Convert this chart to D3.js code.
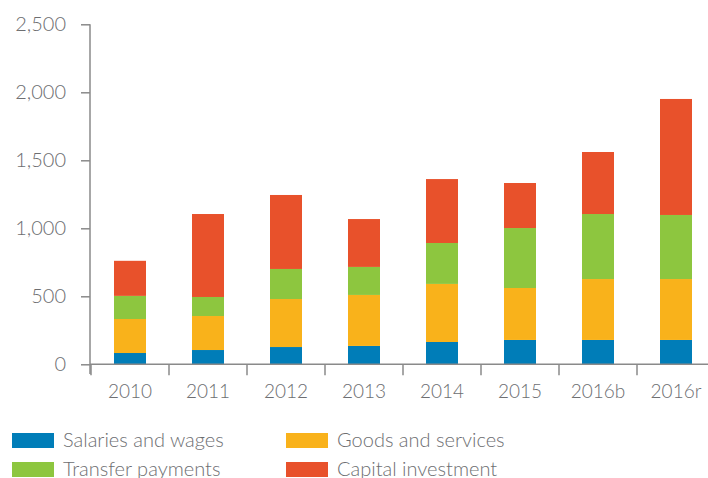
<!DOCTYPE html>
<html><head><meta charset="utf-8">
<script src="https://cdn.jsdelivr.net/npm/d3@7"></script>
<style>body{margin:0;background:#fff}svg{display:block}text{font-family:Lato,"Open Sans",sans-serif;fill:#6d6e71;font-weight:300}</style>
</head><body><svg id="c" width="708" height="478"></svg>
<script>
const categories = ["2010","2011","2012","2013","2014","2015","2016b","2016r"];
const salaries = [83,105,127,135,164,179,179,179];
const goods = [250,250,353,375,427,382,448,448];
const transfers = [170,140,221,206,301,441,478,471];
const capital = [258,610,544,352,470,331,456,853];
const seriesNames = ["Salaries and wages","Goods and services","Transfer payments","Capital investment"];
const colors = ["#007db8","#f9b21b","#8dc63f","#e8512b"];
const yTicks = [0,500,1000,1500,2000,2500];

const svg = d3.select("#c");
const rows = categories.map((c,i)=>({cat:c, s0:salaries[i], s1:goods[i], s2:transfers[i], s3:capital[i]}));
const stack = d3.stack().keys(["s0","s1","s2","s3"])(rows);

const x = d3.scaleBand().domain(categories).range([91,715]).paddingInner(0).paddingOuter(0);
const y = d3.scaleLinear().domain([0,2500]).range([364.3,24.3]);
const bw = 32;

const g = svg.append("g");
stack.forEach((layer,k)=>{
  g.selectAll(null).data(layer).enter().append("rect")
    .attr("x", d=>x(d.data.cat)+x.bandwidth()/2-bw/2)
    .attr("width", bw)
    .attr("y", d=>y(d[1]))
    .attr("height", d=>y(d[0])-y(d[1]))
    .attr("fill", colors[k]);
});

// y axis
const ya = svg.append("g").attr("transform","translate(90,0)")
  .call(d3.axisLeft(y).tickValues(yTicks).tickSize(9).tickPadding(15).tickFormat(d3.format(",")));
ya.select(".domain").attr("stroke","#8a8a8a").attr("stroke-width",1.5).attr("d","M0,24.3V374");
ya.selectAll(".tick line").attr("stroke","#8a8a8a").attr("stroke-width",1.5);
ya.selectAll(".tick text").attr("font-size",20).attr("fill","#6d6e71").attr("font-family","Lato").attr("font-weight",300);

// x axis
const xa = svg.append("g").attr("transform","translate(0,364.3)");
xa.append("line").attr("x1",90).attr("x2",715).attr("stroke","#8a8a8a").attr("stroke-width",1.5);
const bounds = categories.map(c=>x(c)).concat([x.range()[1]]);
xa.selectAll(".tk").data(bounds).enter().append("line")
  .attr("x1",d=>d).attr("x2",d=>d).attr("y1",0).attr("y2",11)
  .attr("stroke","#8a8a8a").attr("stroke-width",1.5);
xa.selectAll(".lb").data(categories).enter().append("text")
  .attr("x",d=>x(d)+x.bandwidth()/2).attr("y",34)
  .attr("text-anchor","middle").attr("font-size",19).text(d=>d);

// legend
const leg = [{x:12,y:433},{x:286,y:433},{x:12,y:462},{x:286,y:462}];
seriesNames.forEach((n,i)=>{
  const p = leg[i];
  svg.append("rect").attr("x",p.x).attr("y",p.y).attr("width",42).attr("height",15).attr("fill",colors[i]);
  svg.append("text").attr("x",p.x+51).attr("y",p.y+14).attr("font-size",20).text(n);
});
</script></body></html>
